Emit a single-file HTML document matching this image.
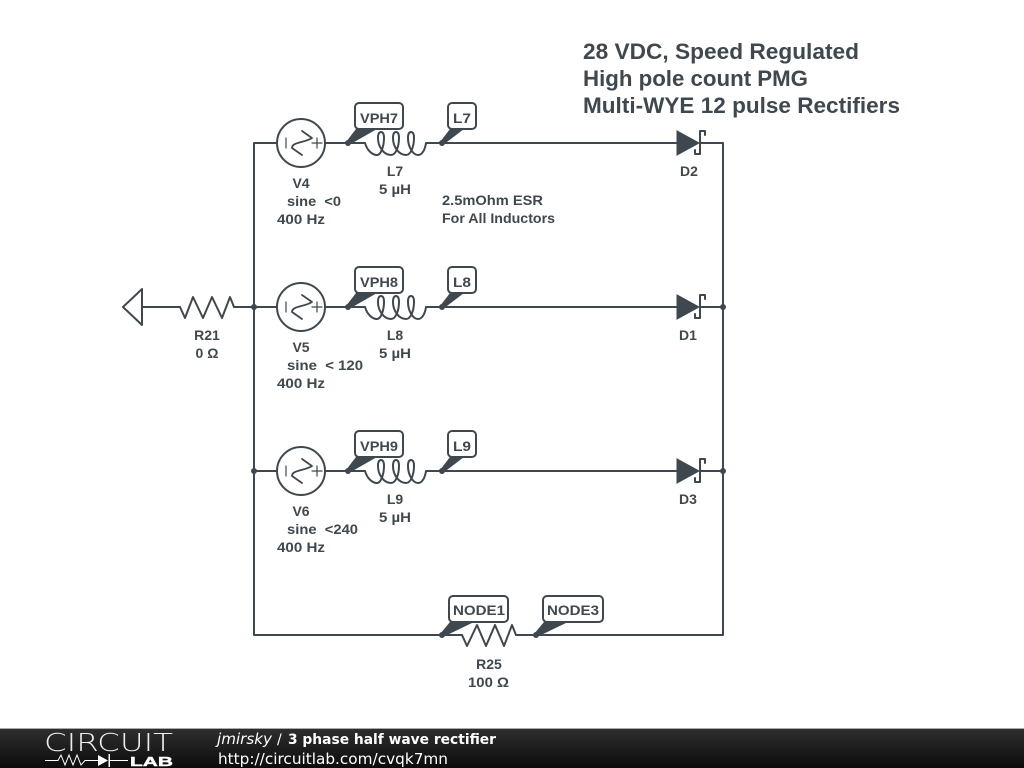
<!DOCTYPE html>
<html><head><meta charset="utf-8">
<style>
html,body{margin:0;padding:0;background:#fff;width:1024px;height:768px;overflow:hidden}
svg{display:block}
text{font-family:"Liberation Sans",sans-serif;font-weight:bold;font-size:14px;fill:#3f484e}
.w{fill:none;stroke:#3f484e;stroke-width:2;stroke-linecap:round;stroke-linejoin:round}
.t{font-size:22px}
.m{text-anchor:middle}
.b{fill:#fff;stroke:#3f484e;stroke-width:2}
.f{font-family:"DejaVu Sans",sans-serif;font-size:14px;fill:#fff;font-weight:normal}
</style></head><body>
<svg width="1024" height="768" viewBox="0 0 1024 768" xmlns="http://www.w3.org/2000/svg">
<defs>
<linearGradient id="g" x1="0" y1="0" x2="0" y2="1"><stop offset="0" stop-color="#2e2e2e"/><stop offset="1" stop-color="#0c0c0c"/></linearGradient>
<g id="src">
<circle cx="0" cy="0" r="24" class="w"/>
<path d="M-15 -5V5M11 0H21M16 -5V5" class="w" style="stroke-width:1.2"/>
<path d="M1 -12L11 -5C3 0 -9 -1 -9 5L1 12" class="w" style="stroke-width:1.8"/>
</g>
<g id="ind">
<path class="w" d="M365 143C367 150 372 155 377 155C381 155 384 146 384 138C384 134 383 132 381 132C379 132 378 134 378 138C378 147 384 155 391 155C396 155 399 146 399 138C399 134 398 132 396 132C394 132 393 134 393 138C393 147 399 155 406 155C411 155 414 146 414 138C414 134 413 132 411 132C409 132 408 134 408 138C408 147 413 155 418 155C422 155 425 150 426 143"/>
</g>
<g id="dio">
<polygon points="677,131 699,143 677,155" fill="#3f484e" stroke="#3f484e" stroke-width="1"/>
<path class="w" d="M695 150V154H700V131H705V135"/>
</g>
</defs>

<!-- main wires -->
<path class="w" d="M254 143H277M325 143H365M426 143H677M700 143H723V635H516M254 143V635H462"/>
<path class="w" d="M142 307H180M234 307H277M325 307H365M426 307H677M700 307H723"/>
<path class="w" d="M254 471H277M325 471H365M426 471H677M700 471H723"/>

<!-- ground -->
<path class="w" d="M142 289V325L123 307Z"/>
<!-- R21 -->
<path class="w" d="M180 307L185 318L193 297L203 318L212 297L222 318L230 297L234 307"/>
<!-- R25 -->
<path class="w" d="M462 635L467 646L477 625L486 646L495 625L504 646L512 625L516 635"/>

<!-- sources -->
<use href="#src" x="301" y="143"/>
<use href="#src" x="301" y="307"/>
<use href="#src" x="301" y="471"/>

<!-- inductors -->
<use href="#ind"/>
<use href="#ind" y="164"/>
<use href="#ind" y="328"/>

<!-- diodes -->
<use href="#dio"/>
<use href="#dio" y="164"/>
<use href="#dio" y="328"/>

<!-- junction dots -->
<g fill="#3f484e">
<circle cx="254" cy="307" r="3"/><circle cx="254" cy="471" r="3"/>
<circle cx="723" cy="307" r="3"/><circle cx="723" cy="471" r="3"/>
</g>

<!-- probes -->
<g fill="#3f484e">
<circle cx="348" cy="143" r="3"/><polygon points="346,142 356,129 377,129 349,145"/>
<circle cx="442" cy="143" r="3"/><polygon points="440,142 450,129 464,129 443,145"/>
<circle cx="348" cy="307" r="3"/><polygon points="346,306 356,293 377,293 349,309"/>
<circle cx="442" cy="307" r="3"/><polygon points="440,306 450,293 464,293 443,309"/>
<circle cx="348" cy="471" r="3"/><polygon points="346,470 356,457 377,457 349,473"/>
<circle cx="442" cy="471" r="3"/><polygon points="440,470 450,457 464,457 443,473"/>
<circle cx="442" cy="635" r="3"/><polygon points="440,634 450,622 474,622 443,637"/>
<circle cx="536" cy="635" r="3"/><polygon points="534,634 544,622 568,622 537,637"/>
</g>
<rect class="b" x="355" y="103" width="48" height="26" rx="4"/>
<rect class="b" x="448" y="103" width="28" height="26" rx="4"/>
<rect class="b" x="355" y="267" width="48" height="26" rx="4"/>
<rect class="b" x="448" y="267" width="28" height="26" rx="4"/>
<rect class="b" x="355" y="431" width="48" height="26" rx="4"/>
<rect class="b" x="448" y="431" width="28" height="26" rx="4"/>
<rect class="b" x="449" y="596" width="59" height="26" rx="4"/>
<rect class="b" x="543" y="596" width="60" height="26" rx="4"/>

<text x="360" y="123" textLength="38" lengthAdjust="spacingAndGlyphs">VPH7</text>
<text x="453" y="123" textLength="18" lengthAdjust="spacingAndGlyphs">L7</text>
<text x="360" y="287" textLength="38" lengthAdjust="spacingAndGlyphs">VPH8</text>
<text x="453" y="287" textLength="18" lengthAdjust="spacingAndGlyphs">L8</text>
<text x="360" y="451" textLength="38" lengthAdjust="spacingAndGlyphs">VPH9</text>
<text x="453" y="451" textLength="18" lengthAdjust="spacingAndGlyphs">L9</text>
<text x="453" y="615" textLength="52" lengthAdjust="spacingAndGlyphs">NODE1</text>
<text x="547" y="615" textLength="52" lengthAdjust="spacingAndGlyphs">NODE3</text>

<!-- component labels -->
<text class="m" x="395" y="176">L7</text><text x="379" y="194" textLength="32" lengthAdjust="spacingAndGlyphs">5 µH</text>
<text class="m" x="395" y="340">L8</text><text x="379" y="358" textLength="32" lengthAdjust="spacingAndGlyphs">5 µH</text>
<text class="m" x="395" y="504">L9</text><text x="379" y="522" textLength="32" lengthAdjust="spacingAndGlyphs">5 µH</text>

<text class="m" x="301" y="188">V4</text>
<text x="287" y="206" xml:space="preserve" textLength="54" lengthAdjust="spacingAndGlyphs">sine  &lt;0</text>
<text x="277" y="224" textLength="48" lengthAdjust="spacingAndGlyphs">400 Hz</text>
<text class="m" x="301" y="352">V5</text>
<text x="287" y="370" xml:space="preserve" textLength="76" lengthAdjust="spacingAndGlyphs">sine  &lt; 120</text>
<text x="277" y="388" textLength="48" lengthAdjust="spacingAndGlyphs">400 Hz</text>
<text class="m" x="301" y="516">V6</text>
<text x="287" y="534" xml:space="preserve" textLength="71" lengthAdjust="spacingAndGlyphs">sine  &lt;240</text>
<text x="277" y="552" textLength="48" lengthAdjust="spacingAndGlyphs">400 Hz</text>

<text class="m" x="689" y="176">D2</text>
<text class="m" x="688" y="340">D1</text>
<text class="m" x="688" y="504">D3</text>

<text class="m" x="207" y="340">R21</text>
<text class="m" x="207" y="358">0 Ω</text>
<text class="m" x="489" y="669">R25</text>
<text x="468" y="687" textLength="41" lengthAdjust="spacingAndGlyphs">100 Ω</text>

<text x="442" y="205" textLength="101" lengthAdjust="spacingAndGlyphs">2.5mOhm ESR</text>
<text x="442" y="223" textLength="113" lengthAdjust="spacingAndGlyphs">For All Inductors</text>

<text class="t" x="583" y="59" textLength="276" lengthAdjust="spacingAndGlyphs">28 VDC, Speed Regulated</text>
<text class="t" x="583" y="86" textLength="225" lengthAdjust="spacingAndGlyphs">High pole count PMG</text>
<text class="t" x="583" y="113" textLength="317" lengthAdjust="spacingAndGlyphs">Multi-WYE 12 pulse Rectifiers</text>

<!-- footer -->
<rect x="0" y="729" width="1024" height="39" fill="url(#g)"/>
<rect x="0" y="728" width="1024" height="1" fill="#aaa"/>
<text x="44" y="751" style="font-family:'DejaVu Sans',sans-serif;font-size:25px;font-weight:200;fill:#eee" textLength="129" lengthAdjust="spacingAndGlyphs">CIRCUIT</text>
<path d="M45 760.500H58L61 755L65 765L69 755L73 765L77 755L81 765L85 760.500H98M110 760.500H128" fill="none" stroke="#fff" stroke-width="1"/>
<polygon points="98,755 108,760.500 98,766" fill="#fff"/>
<rect x="108.500" y="754" width="1.500" height="13" fill="#fff"/>
<text x="130" y="766" style="font-size:13px;font-weight:bold;fill:#fff;stroke:#fff;stroke-width:0.4" textLength="43" lengthAdjust="spacingAndGlyphs">LAB</text>
<text class="f" x="217" y="744" style="font-style:italic;font-size:15px" textLength="55" lengthAdjust="spacingAndGlyphs">jmirsky</text>
<text class="f" x="277" y="744">/</text>
<text class="f" x="288" y="744" style="font-weight:bold" textLength="208" lengthAdjust="spacingAndGlyphs">3 phase half wave rectifier</text>
<text class="f" x="218" y="764" style="font-size:15px" textLength="230" lengthAdjust="spacingAndGlyphs">http://circuitlab.com/cvqk7mn</text>
</svg>
</body></html>
